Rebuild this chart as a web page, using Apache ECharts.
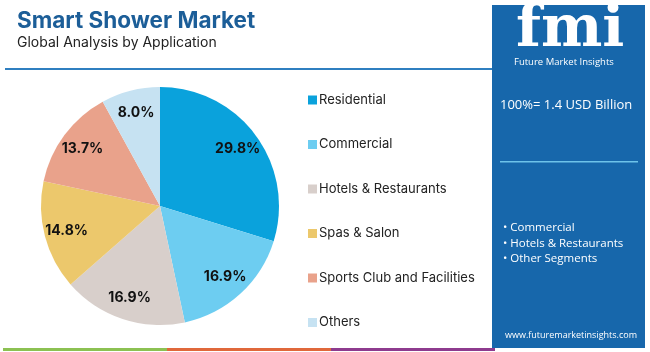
<!DOCTYPE html>
<html>
<head>
    <meta charset="utf-8">
    <title>Smart Shower Market</title>
    <script src="https://cdn.jsdelivr.net/npm/echarts@6/dist/echarts.min.js"></script>
    <style>
        html, body {
            margin: 0;
            padding: 0;
            background: #fff;
        }

        #pie {
            width: 650px;
            height: 352px;
        }
    </style>
</head>
<body>
<div id="pie"></div>
<script type="text/javascript">

    /*数据*/
    var categories = ['Residential', 'Commercial', 'Hotels & Restaurants', 'Spas & Salon', 'Sports Club and Facilities', 'Others'];
    var shares = [29.8, 16.9, 16.9, 14.8, 13.7, 8.0];
    var colors = ['#0aa2dc', '#6dcdf1', '#d8cfcb', '#ecc86c', '#e9a28b', '#c6e2f2'];
    var sideBullets = ['• Commercial', '• Hotels & Restaurants', '• Other Segments'];

    var pieData = [];
    for (var i = 0; i < categories.length; i++) {
        pieData.push({name: categories[i], value: shares[i], itemStyle: {color: colors[i]}});
    }

    var myPie = echarts.init(document.getElementById('pie'));

    var bulletText = [];
    for (var j = 0; j < sideBullets.length; j++) {
        bulletText.push({
            type: 'text',
            left: 503,
            top: 222 + j * 15.5,
            style: {text: sideBullets[j], fill: '#fff', font: '11.5px "Open Sans"'}
        });
    }

    myPie.setOption({
        backgroundColor: '#fff',
        animation: false,
        title: [{
            text: 'Smart Shower Market',
            left: 12,
            top: 5,
            textStyle: {fontFamily: 'Inter', fontSize: 22.5, fontWeight: 'bold', color: '#1c5e98'}
        }, {
            text: 'Global Analysis by Application',
            left: 12,
            top: 31,
            textStyle: {fontFamily: 'Inter', fontSize: 14, fontWeight: 'normal', color: '#222'}
        }],
        legend: {
            orient: 'vertical',
            left: 303,
            top: 87,
            icon: 'rect',
            itemWidth: 9,
            itemHeight: 9,
            itemGap: 28.5,
            selectedMode: false,
            data: categories,
            textStyle: {fontFamily: 'Inter', fontSize: 13, color: '#222', lineHeight: 16, padding: [0, 0, 0, -3]}
        },
        graphic: [
            // 标题下的分隔线
            {type: 'rect', shape: {x: 5, y: 68, width: 490, height: 2}, style: {fill: '#2f7fc0'}},
            // 右侧面板
            {type: 'rect', shape: {x: 492, y: 5, width: 153, height: 343}, style: {fill: '#1767ab'}},
            {type: 'text', left: 516, top: 2, style: {text: 'fmi', fill: '#fff', font: 'bold 58px "DejaVu Serif"'}},
            {type: 'text', left: 514, top: 57, style: {text: 'Future Market Insights', fill: '#fff', font: '9.5px "Open Sans"'}},
            {type: 'text', left: 500, top: 99, style: {text: '100%= 1.4 USD Billion', fill: '#fff', font: '13px "Open Sans"'}},
            {type: 'rect', shape: {x: 500, y: 161, width: 138, height: 1.5}, style: {fill: '#6ec3ea'}},
            {type: 'text', left: 505, top: 331, style: {text: 'www.futuremarketinsights.com', fill: '#fff', font: '9px "Open Sans"'}},
            // 底部彩条
            {type: 'rect', shape: {x: 3, y: 348, width: 164, height: 3}, style: {fill: '#8cc152'}},
            {type: 'rect', shape: {x: 167, y: 348, width: 164, height: 3}, style: {fill: '#e0683b'}},
            {type: 'rect', shape: {x: 331, y: 348, width: 164, height: 3}, style: {fill: '#8e3b8e'}}
        ].concat(bulletText),
        series: [
            {
                name: 'share',
                type: 'pie',
                center: [160, 206],
                radius: [0, 119],
                startAngle: 90,
                clockwise: true,
                silent: true,
                label: {show: false},
                labelLine: {show: false},
                data: pieData
            },
            {
                // 只用来放标签
                name: 'labels',
                type: 'pie',
                center: [160, 206],
                radius: [68, 119],
                startAngle: 90,
                clockwise: true,
                silent: true,
                itemStyle: {color: 'transparent'},
                label: {
                    show: true,
                    position: 'inside',
                    formatter: function (p) {
                        return p.value.toFixed(1) + '%';
                    },
                    fontFamily: 'Inter',
                    fontSize: 14,
                    fontWeight: 'bold',
                    color: '#111'
                },
                labelLine: {show: false},
                data: shares.map(function (v, k) {
                    return {name: categories[k], value: v, itemStyle: {color: 'transparent'}};
                })
            }
        ]
    });
</script>
</body>
</html>
